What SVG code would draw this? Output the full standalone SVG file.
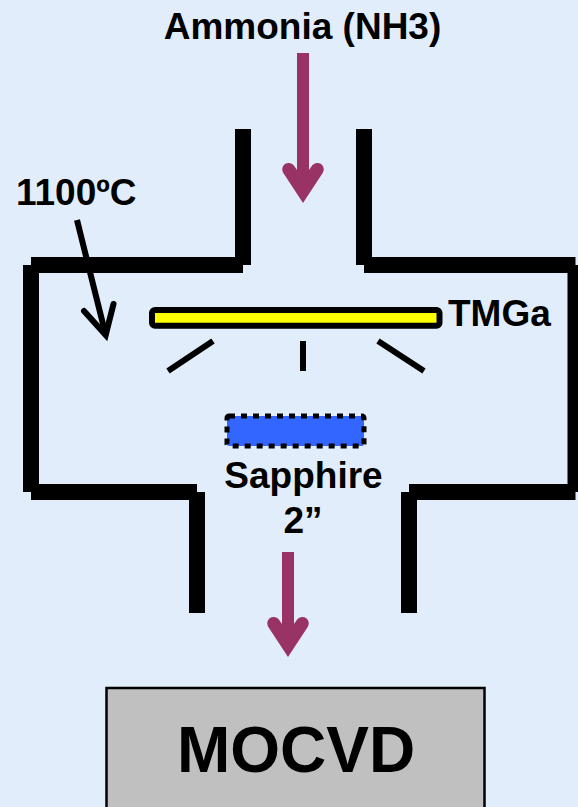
<svg xmlns="http://www.w3.org/2000/svg" width="578" height="807" viewBox="0 0 578 807">
<style>
text{font-family:"Liberation Sans",Arial,sans-serif;font-weight:bold;font-size:37px;fill:#000}
.wall{fill:#000}
.flow{fill:#993366}
.tick{stroke:#000;stroke-width:6;fill:none}
</style>
<rect width="578" height="807" fill="#e1edfa"/>
<g id="reactor-walls">
<rect class="wall" x="235" y="129" width="16" height="136"/>
<rect class="wall" x="31" y="257" width="212" height="16"/>
<rect class="wall" x="23" y="265" width="16" height="227"/>
<rect class="wall" x="31" y="484" width="166" height="16"/>
<rect class="wall" x="189" y="492" width="16" height="121"/>
<rect class="wall" x="356" y="129" width="16" height="136"/>
<rect class="wall" x="364" y="257" width="211.500" height="16"/>
<rect class="wall" x="567.500" y="265" width="10.500" height="227"/>
<rect class="wall" x="409" y="484" width="166.500" height="16"/>
<rect class="wall" x="401" y="492" width="16" height="121"/>
</g>
<g id="tmga-bar">
<rect x="152" y="310" width="287.500" height="15.700" rx="3" fill="#ffff00" stroke="#000" stroke-width="6"/>
<text x="448" y="325.500">TMGa</text>
</g>
<g id="sapphire">
<rect x="227" y="416" width="137" height="30" rx="2" fill="#3366ff" stroke="#000" stroke-width="5" stroke-dasharray="6 6"/>
<text x="303.500" y="488" text-anchor="middle">Sapphire</text>
<text x="303" y="533" text-anchor="middle">2”</text>
</g>
<g id="mocvd">
<rect x="106.500" y="688" width="378" height="130" fill="#c0c0c0" stroke="#000" stroke-width="2.500"/>
<text x="296" y="771.500" text-anchor="middle" style="font-size:64px">MOCVD</text>
</g>
<g id="ammonia-label"><text x="302.500" y="38.500" text-anchor="middle">Ammonia (NH3)</text></g>
<g id="temperature-label"><text x="16" y="205">1100ºC</text></g>
<g id="connectors">
<path class="flow" transform="translate(303 203)" d="M0 0L-20 -30.500A6.500 6.500 0 0 1 -9.500 -38L-6 -33V-150H6V-33L9.500 -38A6.500 6.500 0 0 1 20 -30.500Z"/>
<path class="flow" transform="translate(288 657)" d="M0 0L-20 -30.500A6.500 6.500 0 0 1 -9.500 -38L-6 -33V-105H6V-33L9.500 -38A6.500 6.500 0 0 1 20 -30.500Z"/>
<path d="M77 220L105 332" fill="none" stroke="#000" stroke-width="6"/>
<path d="M84 311L105.700 335L113.500 304" fill="none" stroke="#000" stroke-width="6" stroke-linecap="round"/>
<path class="tick" d="M213 341L168 371"/>
<path class="tick" d="M303 341V371"/>
<path class="tick" d="M378 341L424 371"/>
</g>
</svg>
